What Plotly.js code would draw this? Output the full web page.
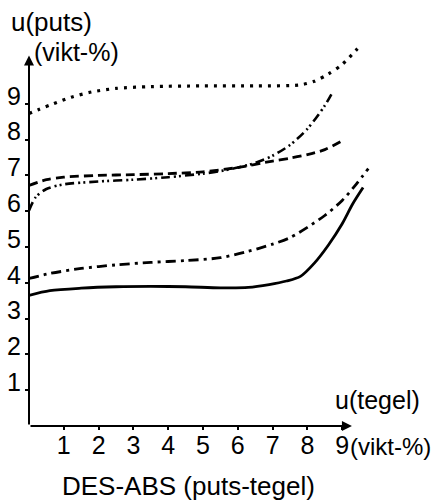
<!DOCTYPE html>
<html>
<head>
<meta charset="utf-8">
<script src="https://cdn.plot.ly/plotly-3.0.1.min.js"></script>
<style>html,body{margin:0;padding:0;background:#fff;}#chart{width:438px;height:504px;}</style>
</head>
<body>
<div id="chart"></div>
<script>
// ---- data ----
const tickVals = [1, 2, 3, 4, 5, 6, 7, 8, 9];
const tickText = ["1", "2", "3", "4", "5", "6", "7", "8", "9"];

const solidX = [0, 0.6, 1.5, 2.5, 3.5, 4.5, 5.5, 6.3, 6.9, 7.4, 7.8, 8.2, 8.6, 9.0, 9.3, 9.6];
const solidY = [3.65, 3.78, 3.85, 3.89, 3.9, 3.89, 3.86, 3.87, 3.95, 4.05, 4.18, 4.55, 5.05, 5.65, 6.2, 6.66];

const dashDotX = [0, 0.6, 1.5, 2.5, 3.5, 4.5, 5.5, 6.3, 7.0, 7.5, 8.0, 8.5, 9.0, 9.4, 9.75];
const dashDotY = [4.12, 4.26, 4.4, 4.5, 4.57, 4.62, 4.7, 4.88, 5.08, 5.26, 5.55, 5.88, 6.3, 6.75, 7.19];

const dashedX = [0, 0.5, 1, 2, 3, 4, 5, 6, 7, 7.5, 8, 8.5, 9];
const dashedY = [6.72, 6.88, 6.95, 7.0, 7.02, 7.05, 7.1, 7.22, 7.4, 7.48, 7.58, 7.72, 7.97];

const dashDotDotX = [0, 0.2, 0.5, 1, 2, 3, 4, 5, 5.5, 6, 6.5, 7, 7.5, 8, 8.5, 8.75];
const dashDotDotY = [6.02, 6.4, 6.62, 6.75, 6.83, 6.88, 6.95, 7.05, 7.12, 7.22, 7.35, 7.55, 7.85, 8.3, 8.95, 9.37];

const dottedX = [0, 0.3, 0.7, 1.2, 1.8, 2.5, 3.5, 5, 6.5, 7.8, 8.2, 8.6, 9.0, 9.44];
const dottedY = [8.73, 8.85, 9.0, 9.18, 9.33, 9.43, 9.48, 9.5, 9.5, 9.53, 9.63, 9.83, 10.1, 10.54];

const yAxisTop = 10.35;
const xAxisEnd = 9.28;

// ---- layout geometry ----
const W = 438, H = 504;
const M = {l: 29, r: 0, t: 6, b: 78};
const pw = W - M.l - M.r, ph = H - M.t - M.b;
const xUnit = 34.8, yUnit = 35.8;
const xRange = [0, pw / xUnit];
const yRange = [0, ph / yUnit];
function px(x) { return (x - M.l) / pw; }
function py(y) { return (H - M.b - y) / ph; }

const FONT = "Liberation Sans, Arial, sans-serif";

function tr(x, y, dash, w) {
  return {
    x: x, y: y, type: "scatter", mode: "lines",
    line: {color: "#000", width: w, dash: dash, shape: "spline", smoothing: 0.8},
    hoverinfo: "skip", showlegend: false
  };
}

const data = [
  tr(solidX, solidY, "solid", 2.8),
  tr(dashDotX, dashDotY, "10px,5px,3px,5px", 2.8),
  tr(dashedX, dashedY, "9px,5px", 2.8),
  tr(dashDotDotX, dashDotDotY, "9px,4px,2px,3px,2px,4px", 2.6),
  tr(dottedX, dottedY, "3px,6px", 3.2)
];

function txt(t, x, y, size) {
  return {text: t, xref: "paper", yref: "paper", x: px(x), y: py(y),
    xanchor: "left", yanchor: "middle", showarrow: false,
    font: {family: FONT, size: size, color: "#000"}};
}

const layout = {
  width: W, height: H,
  margin: M,
  paper_bgcolor: "#fff", plot_bgcolor: "#fff",
  showlegend: false,
  xaxis: {
    range: xRange, showgrid: false, zeroline: false, showline: false,
    tickmode: "array", tickvals: tickVals, ticktext: tickText,
    ticks: "outside", ticklen: 3, tickwidth: 2, tickcolor: "#000",
    ticklabelstandoff: -6,
    tickfont: {family: FONT, size: 25, color: "#000"}
  },
  yaxis: {
    range: yRange, showgrid: false, zeroline: false, showline: false,
    tickmode: "array", tickvals: tickVals, ticktext: tickText,
    ticks: "outside", ticklen: 3, tickwidth: 2, tickcolor: "#000",
    ticklabelshift: -8, ticklabelstandoff: -1,
    tickfont: {family: FONT, size: 25, color: "#000"}
  },
  annotations: [
    {x: 0, y: yAxisTop, ax: 0, ay: 0, xref: "x", yref: "y", axref: "x", ayref: "y",
     text: "", showarrow: true, arrowhead: 2, arrowsize: 1, arrowwidth: 2, arrowcolor: "#000"},
    {x: xAxisEnd, y: 0, ax: 0, ay: 0, xref: "x", yref: "y", axref: "x", ayref: "y",
     text: "", showarrow: true, arrowhead: 2, arrowsize: 1, arrowwidth: 2, arrowcolor: "#000"},
    txt("u(puts)", 9, 22, 26),
    txt("(vikt-%)", 32, 52, 25),
    txt("u(tegel)", 333, 400, 25),
    txt("(vikt-%)", 348, 446, 24),
    txt("DES-ABS (puts-tegel)", 60, 486, 26)
  ]
};

Plotly.newPlot("chart", data, layout, {staticPlot: true, displayModeBar: false});
</script>
</body>
</html>
